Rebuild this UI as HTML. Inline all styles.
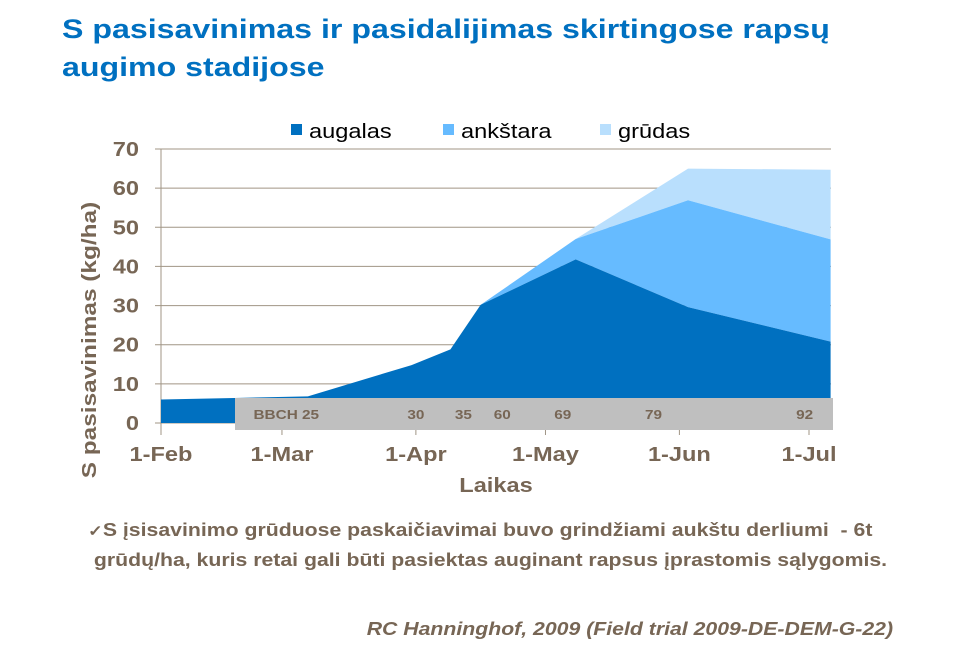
<!DOCTYPE html>
<html><head><meta charset="utf-8"><style>
body{margin:0;width:957px;height:661px;background:#fff;overflow:hidden;font-family:"Liberation Sans",Arial,sans-serif;position:relative}
.t{position:absolute;white-space:nowrap}
</style></head><body>
<div class="t" style="left:62px;top:10px;font-size:27px;font-weight:bold;color:#0070c0;line-height:38px;transform:scaleX(1.19);transform-origin:0 0">S pasisavinimas ir pasidalijimas skirtingose rapsų<br>augimo stadijose</div>
<svg width="957" height="661" style="position:absolute;left:0;top:0" id="c"></svg>
<div class="t" style="left:88px;top:516px;font-size:18px;font-weight:bold;color:#776655;line-height:28px;transform:scaleX(1.18);transform-origin:0 0"><span style="font-size:15px">✓</span>S įsisavinimo grūduose paskaičiavimai buvo grindžiami aukštu derliumi&nbsp; - 6t<br>&nbsp;grūdų/ha, kuris retai gali būti pasiektas auginant rapsus įprastomis sąlygomis.</div>
<div class="t" style="right:64px;top:619px;font-size:18px;font-weight:bold;font-style:italic;color:#776655;transform:scaleX(1.18);transform-origin:100% 0">RC Hanninghof, 2009 (Field trial 2009-DE-DEM-G-22)</div>
<script>
const days=[0,17,34,58,67,74,96,122,155];
const augalas=[6,6.4,6.8,14.8,18.8,30.2,41.8,29.6,20.8];
const ankstara=[0,0,0,0,0,0,5.2,27.3,26.1];
const grudas=[0,0,0,0,0,0,0,8.1,17.8];
const yTicks=[0,10,20,30,40,50,60,70];
const xTickDays=[0,28,59,89,120,150];
const xTickLabels=["1-Feb","1-Mar","1-Apr","1-May","1-Jun","1-Jul"];
const bbchLabels=["BBCH 25","30","35","60","69","79","92"];
const bbchDays=[29,59,70,79,93,114,149];
const NS="http://www.w3.org/2000/svg";
const svg=document.getElementById('c');
const X=d=>161+d*4.32, Y=v=>423-v*(274/70);
const brown="#776655", SX=1.18;
function mk(tag,at,txt){const e=document.createElementNS(NS,tag);for(const k in at)e.setAttribute(k,at[k]);if(txt!=null)e.textContent=txt;svg.appendChild(e);return e;}
function txt(x,y,s,at){at.x=0;at.y=0;at.transform='translate('+x+','+y+') scale('+SX+',1)'+(at.rot||'');delete at.rot;return mk('text',at,s);}
yTicks.forEach(v=>{
 const l=mk('line',{x1:155,x2:831,y1:Y(v),y2:Y(v),stroke:'#a09585','stroke-width':1});
 
 
 const t=txt(139,Y(v)+7,v,{'text-anchor':'end','font-size':20,'font-weight':'bold',fill:brown});
 
 
});
mk('line',{x1:161,x2:161,y1:149,y2:430,stroke:'#a09585'});
const cum1=augalas, cum2=augalas.map((v,i)=>v+ankstara[i]), cum3=cum2.map((v,i)=>v+grudas[i]);
function area(top,bot,color,name){
 let d='M'+days.map((dd,i)=>X(dd)+','+Y(top[i])).join('L');
 for(let i=days.length-1;i>=0;i--)d+='L'+X(days[i])+','+Y(bot[i]);
 const p=mk('path',{d:d+'Z',fill:color});
 
 
}
const zero=days.map(()=>0);
area(cum3,cum2,'#b9dffd','area-grudas');
area(cum2,cum1,'#66bbff','area-ankstara');
area(cum1,zero,'#0070c0','area-augalas');
const bar=mk('rect',{x:235,y:398,width:598,height:32,fill:'#bfbfbf'});


bbchLabels.forEach((s,i)=>{
 const t=txt(X(bbchDays[i]),419,s,{'text-anchor':'middle','font-size':13,'font-weight':'bold',fill:brown});
 
 
});
xTickDays.forEach((d,i)=>{
 mk('line',{x1:X(d),x2:X(d),y1:430,y2:435,stroke:'#a09585'});
 const t=txt(X(d),461,xTickLabels[i],{'text-anchor':'middle','font-size':20,'font-weight':'bold',fill:brown});
 
 
});
const xt=txt(496,492,'Laikas',{'text-anchor':'middle','font-size':20,'font-weight':'bold',fill:brown});


const yt=mk('text',{x:0,y:0,'text-anchor':'middle','font-size':20,'font-weight':'bold',fill:brown,transform:'translate(96,340) rotate(-90) scale(1.22,1)'},'S pasisavinimas  (kg/ha)');
yt.setAttribute('xml:space','preserve');


const leg=[['augalas','#0070c0',291],['ankštara','#66bbff',443],['grūdas','#b9dffd',600]];
leg.forEach(([n,c,x])=>{
 const r=mk('rect',{x:x,y:124,width:11,height:11,fill:c});
 
 
 const t=txt(x+18,138,n,{'font-size':20,fill:'#000'});
 
 
});
</script>
</body></html>
